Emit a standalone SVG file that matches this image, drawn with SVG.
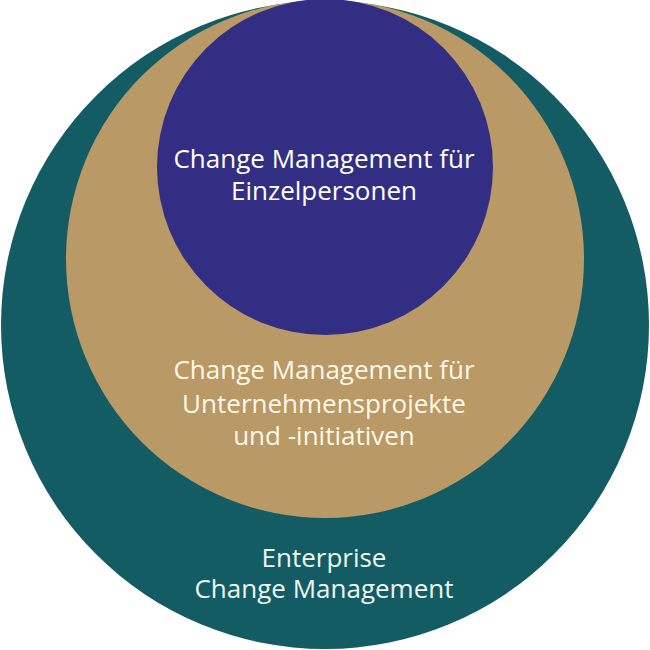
<svg xmlns="http://www.w3.org/2000/svg" width="650" height="650" viewBox="0 0 650 650">
<style>
.lbl{font-family:"Open Sans","Noto Sans",sans-serif;font-size:26px;font-weight:500;text-anchor:middle}
</style>
<rect width="650" height="650" fill="#ffffff"/>
<g id="enterprise">
<circle cx="325" cy="325" r="324" fill="#145c63"/>
<text class="lbl" x="324" y="567" fill="#eef6f2">Enterprise</text>
<text class="lbl" x="324" y="598" fill="#eef6f2">Change Management</text>
</g>
<g id="projects">
<circle cx="325" cy="259" r="259" fill="#b99966"/>
<text class="lbl" x="324" y="379" fill="#fff8e8">Change Management für</text>
<text class="lbl" x="324" y="413" fill="#fff8e8">Unternehmensprojekte</text>
<text class="lbl" x="324" y="445" fill="#fff8e8">und -initiativen</text>
</g>
<g id="individuals">
<circle cx="325" cy="167" r="168" fill="#322e83"/>
<text class="lbl" x="324" y="168" fill="#ffffff">Change Management für</text>
<text class="lbl" x="324" y="200" fill="#ffffff">Einzelpersonen</text>
</g>
<g id="connectors"/>
</svg>
